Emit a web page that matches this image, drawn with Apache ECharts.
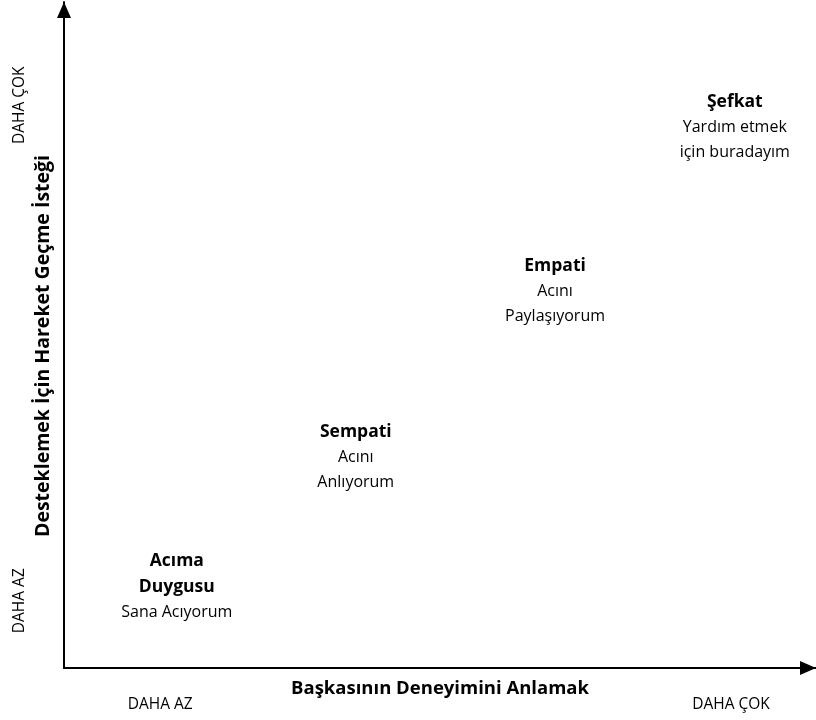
<!DOCTYPE html>
<html>
<head>
<meta charset="utf-8">
<script src="https://cdn.jsdelivr.net/npm/echarts@6/dist/echarts.min.js"></script>
<style>
html,body{margin:0;padding:0;background:#fff;}
#chart{width:816px;height:720px;}
</style>
</head>
<body>
<div id="chart"></div>
<script>
const titles = ['Acıma\nDuygusu', 'Sempati', 'Empati', 'Şefkat'];
const subtitles = ['Sana Acıyorum', 'Acını\nAnlıyorum', 'Acını\nPaylaşıyorum', 'Yardım etmek\niçin buradayım'];
const xValues = [15.0, 38.8, 65.3, 89.2];
const yValues = [12.2, 31.7, 56.6, 81.2];
const xTickValues = [12.8, 88.7];
const xTickLabels = ['DAHA AZ', 'DAHA ÇOK'];
const yTickValues = [10.1, 84.5];
const yTickLabels = ['DAHA AZ', 'DAHA ÇOK'];
const xTitle = 'Başkasının Deneyimini Anlamak';
const yTitle = 'Desteklemek İçin Hareket Geçme İsteği';

const FONT = 'Open Sans';
const chart = echarts.init(document.getElementById('chart'), null, {renderer: 'canvas'});

function toRich(title, sub) {
  const t = title.split('\n').map(s => '{b|' + s + '}').join('\n');
  const s = sub.split('\n').map(x => '{n|' + x + '}').join('\n');
  return t + '\n' + s;
}

const data = xValues.map((x, i) => ({
  value: [x, yValues[i]],
  name: titles[i],
  sub: subtitles[i]
}));

chart.setOption({
  animation: false,
  backgroundColor: '#fff',
  textStyle: {fontFamily: FONT},
  grid: {left: 64, right: 0, top: 2, bottom: 52, containLabel: false, outerBoundsMode: 'none'},
  xAxis: {
    type: 'value', min: 0, max: 100,
    splitLine: {show: false},
    axisLine: {show: true, onZero: false, symbol: ['none', 'triangle'], symbolSize: [14, 16],
      symbolOffset: [0, -8],
      lineStyle: {color: '#000', width: 2}},
    axisTick: {show: false},
    axisLabel: {
      show: true, customValues: xTickValues, margin: 29,
      fontFamily: FONT, fontSize: 15.5, color: '#000',
      formatter: v => xTickLabels[xTickValues.indexOf(v)] || ''
    },
    name: xTitle, nameLocation: 'middle', nameGap: 11, nameMoveOverlap: false,
    nameTextStyle: {fontFamily: FONT, fontWeight: 'bold', fontSize: 18.5, color: '#000'}
  },
  yAxis: {
    type: 'value', min: 0, max: 100,
    splitLine: {show: false},
    axisLine: {show: true, onZero: false, symbol: ['none', 'triangle'], symbolSize: [14, 16],
      symbolOffset: [0, -8],
      lineStyle: {color: '#000', width: 2}},
    axisTick: {show: false},
    axisLabel: {
      show: true, customValues: yTickValues, margin: 36, rotate: 90,
      fontFamily: FONT, fontSize: 15.5, color: '#000',
      formatter: v => yTickLabels[yTickValues.indexOf(v)] || ''
    },
    name: yTitle, nameLocation: 'middle', nameGap: 11, nameRotate: 90, nameMoveOverlap: false,
    nameTextStyle: {fontFamily: FONT, fontWeight: 'bold', fontSize: 19.5, color: '#000', padding: [0, 22, 0, 0]}
  },
  series: [{
    type: 'scatter',
    symbolSize: 0,
    itemStyle: {opacity: 1},
    data: data,
    label: {
      show: true, position: 'inside', color: '#000',
      formatter: p => toRich(p.data.name, p.data.sub),
      rich: {
        b: {fontFamily: FONT, fontWeight: 'bold', fontSize: 17.5, color: '#000', lineHeight: 26, align: 'center'},
        n: {fontFamily: FONT, fontSize: 16, color: '#000', lineHeight: 25, align: 'center'}
      }
    }
  }]
});
</script>
</body>
</html>
